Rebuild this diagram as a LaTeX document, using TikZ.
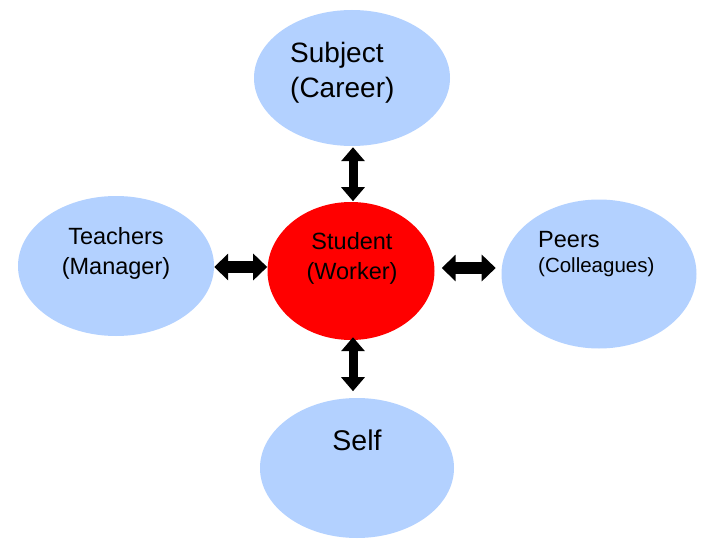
\documentclass[tikz,border=0pt]{standalone}
\usepackage{fontspec}
\setmainfont{Liberation Sans}
\usetikzlibrary{shapes.geometric,arrows.meta,calc}
\definecolor{lblue}{RGB}{179,209,255}
\definecolor{cred}{RGB}{255,0,0}
\begin{document}
\begin{tikzpicture}[x=1pt,y=-1pt,
  blob/.style={ellipse, fill=lblue, draw=none, inner sep=0pt},
  txt/.style={inner sep=0pt, align=center},
  vbigarrow/.style={line width=9pt, {Triangle[length=14pt,width=23pt]}-{Triangle[length=14pt,width=23pt]}},
  hbigarrow/.style={line width=12pt, {Triangle[length=14pt,width=26pt]}-{Triangle[length=14pt,width=26pt]}}]
\useasboundingbox[fill=white] (0,0) rectangle (713,543);
\node[blob, minimum width=196pt, minimum height=136pt] (subj) at (352,78) {};
\node[blob, minimum width=196pt, minimum height=140pt] (teach) at (116,266) {};
\node[blob, minimum width=195pt, minimum height=149pt] (peers) at (599,274) {};
\node[blob, minimum width=194pt, minimum height=140pt] (self) at (357,468) {};
\node[ellipse, fill=cred, inner sep=0pt, minimum width=167pt, minimum height=138pt] (stud) at (351,271) {};
\node[txt, align=left, anchor=west, font=\fontsize{28}{35}\selectfont] (subjt) at (290,73) {Subject\\(Career)};
\node[txt, font=\fontsize{23.5}{30}\selectfont] (teacht) at (116,253) {Teachers\\(Manager)};
\node[txt, font=\fontsize{23.5}{30}\selectfont] (studt) at (352,258) {Student\\(Worker)};
\node[inner sep=0pt, anchor=west, font=\fontsize{23.5}{30}\selectfont] (peerst) at (538,240) {Peers};
\node[inner sep=0pt, anchor=west, font=\fontsize{20.5}{26}\selectfont] (collt) at (538,267) {(Colleagues)};
\node[txt, font=\fontsize{28.5}{35}\selectfont] (selft) at (357,440) {Self};
\draw[vbigarrow] ($(subj.south)+(1,1)$) -- ($(subj.south)+(1,55)$);
\draw[vbigarrow] ($(stud.south)+(2,-3)$) -- ($(stud.south)+(2,51)$);
\draw[hbigarrow] ($(teach.east)+(0,1)$) -- ($(teach.east)+(53,1)$);
\draw[hbigarrow] ($(stud.east)+(7,-3)$) -- ($(stud.east)+(61,-3)$);
\end{tikzpicture}
\end{document}
